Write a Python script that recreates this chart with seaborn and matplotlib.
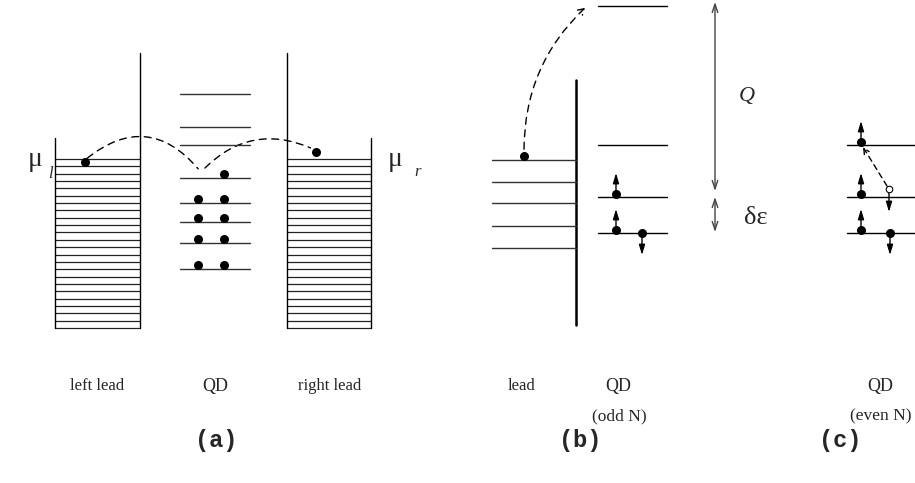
import numpy as np
import matplotlib
matplotlib.use("Agg")
from matplotlib import pyplot as plt
from matplotlib.patches import FancyArrowPatch
import seaborn as sns

sns.set_style("white")
plt.rcParams['font.family'] = ['Liberation Serif', 'DejaVu Serif']

# ---- panel (a): leads and dot levels (pixel coords, y down) ----
lead_top, lead_bot = 159, 328
n_lead_lines = 24
left_lead_x = [55, 140]
right_lead_x = [287, 371]
wall_low_top, wall_high_top = 138, 53
qd_a_x = [180, 250]
qd_a_levels = [94, 127, 145, 178, 203, 222, 243, 269]
qd_a_dots = [(224, 178), (198, 203), (224, 203), (198, 222), (224, 222),
             (198, 243), (224, 243), (198, 269), (224, 269)]
lead_e_left = (85, 162)
lead_e_right = (316, 152)

# ---- panel (b) ----
lead_b_wall = [576, 80, 325]
lead_b_x = [492, 576]
lead_b_levels = [160, 182, 203, 226, 248]
lead_e_b = (524, 156)
qd_b_x = [598, 667]
qd_b_levels = [6, 145, 197, 233]
spins_b = [(616, 197, 'up'), (616, 233, 'up'), (642, 233, 'down')]

# ---- panel (c) ----
qd_c_x = [847, 915]
qd_c_levels = [145, 197, 233]
spins_c = [(861, 145, 'up'), (861, 197, 'up'), (861, 233, 'up'), (890, 233, 'down')]
hole_c = (889, 189)

fig = plt.figure(figsize=(9.15, 4.83), dpi=100)
ax = fig.add_axes([0, 0, 1, 1])
ax.set_xlim(0, 915)
ax.set_ylim(483, 0)
ax.axis('off')

k = dict(color='black', lw=1.0)

# leads (a)
for xs in (left_lead_x, right_lead_x):
    for y in np.linspace(lead_top, lead_bot, n_lead_lines):
        ax.plot(xs, [y, y], color='#222222', lw=0.9)
ax.plot([left_lead_x[0]] * 2, [wall_low_top, lead_bot], **k)
ax.plot([left_lead_x[1]] * 2, [wall_high_top, lead_bot], **k)
ax.plot([right_lead_x[0]] * 2, [wall_high_top, lead_bot], **k)
ax.plot([right_lead_x[1]] * 2, [wall_low_top, lead_bot], **k)

for y in qd_a_levels:
    ax.plot(qd_a_x, [y, y], color='#333333', lw=1.0)
dx, dy = zip(*qd_a_dots)
ax.scatter(dx, np.array(dy) - 4, s=30, color='black', zorder=3)
ax.scatter(*zip(lead_e_left, lead_e_right), s=30, color='black', zorder=3)

ax.add_patch(FancyArrowPatch((lead_e_left[0], lead_e_left[1] - 2), (200, 171),
                             connectionstyle="arc3,rad=-0.5", arrowstyle='-',
                             ls=(0, (5, 4)), lw=1.0, color='black'))
ax.add_patch(FancyArrowPatch((203, 170), (lead_e_right[0] - 3, lead_e_right[1] - 3),
                             connectionstyle="arc3,rad=-0.35", arrowstyle='-',
                             ls=(0, (5, 4)), lw=1.0, color='black'))

ax.text(28, 160, 'μ', fontsize=20, ha='left', va='center')
ax.text(50, 174, 'l', fontsize=12, style='italic', ha='center', va='center')
ax.text(388, 160, 'μ', fontsize=20, ha='left', va='center')
ax.text(418, 172, 'r', fontsize=12, style='italic', ha='center', va='center')

ax.text(97, 386, 'left lead', fontsize=12, ha='center', va='center')
ax.text(215, 386, 'QD', fontsize=13, ha='center', va='center')
ax.text(330, 386, 'right lead', fontsize=12, ha='center', va='center')

# panel (b)
ax.plot([lead_b_wall[0]] * 2, lead_b_wall[1:], color='black', lw=1.8)
for y in lead_b_levels:
    ax.plot(lead_b_x, [y, y], color='#333333', lw=1.0)
ax.scatter(*lead_e_b, s=30, color='black', zorder=3)
for y in qd_b_levels:
    ax.plot(qd_b_x, [y, y], color='black', lw=1.0)


def spin(x, y, d):
    y0 = y - 3 if d == 'up' else y
    ax.scatter(x, y0, s=30, color='black', zorder=3)
    y1 = y - 24 if d == 'up' else y + 22
    ax.annotate('', xy=(x, y1), xytext=(x, y0),
                arrowprops=dict(arrowstyle='-|>,head_length=0.6,head_width=0.18',
                                color='black', lw=1.0, shrinkA=0, shrinkB=0))


for x, y, d in spins_b:
    spin(x, y, d)

ax.add_patch(FancyArrowPatch((lead_e_b[0], lead_e_b[1] - 4), (587, 6),
                             connectionstyle="arc3,rad=-0.22",
                             arrowstyle='->,head_length=4,head_width=2.5',
                             ls=(0, (5, 4)), lw=1.0, color='black'))

ax.annotate('', xy=(715, 2), xytext=(715, 191),
            arrowprops=dict(arrowstyle='<->,head_length=0.6,head_width=0.2',
                            color='#444444', lw=1.0, shrinkA=0, shrinkB=0))
ax.annotate('', xy=(715, 197), xytext=(715, 232),
            arrowprops=dict(arrowstyle='<->,head_length=0.6,head_width=0.2',
                            color='#444444', lw=1.0, shrinkA=0, shrinkB=0))
ax.text(747, 97, 'Q', fontsize=16, style='italic', ha='center', va='center')
ax.text(756, 218, 'δε', fontsize=19, ha='center', va='center')

ax.text(522, 386, 'lead', fontsize=12, ha='center', va='center')
ax.text(618, 386, 'QD', fontsize=13, ha='center', va='center')
ax.text(619, 416, '(odd N)', fontsize=12.5, ha='center', va='center')

# panel (c)
for y in qd_c_levels:
    ax.plot(qd_c_x, [y, y], color='black', lw=1.0)
for x, y, d in spins_c:
    spin(x, y, d)
ax.scatter(*hole_c, s=22, facecolor='white', edgecolor='black', lw=0.8, zorder=3)
ax.annotate('', xy=(hole_c[0], 212), xytext=(hole_c[0], 193),
            arrowprops=dict(arrowstyle='-|>,head_length=0.6,head_width=0.18',
                            color='black', lw=1.0, shrinkA=0, shrinkB=0))
ax.annotate('', xy=(863, 147), xytext=(hole_c[0] - 2, hole_c[1] - 3),
            arrowprops=dict(arrowstyle='->,head_length=0.4,head_width=0.2',
                            ls=(0, (4, 3)), color='black', lw=1.0,
                            shrinkA=0, shrinkB=0))
ax.text(880, 386, 'QD', fontsize=13, ha='center', va='center')
ax.text(881, 416, '(even N)', fontsize=12.5, ha='center', va='center')

for x, s in [(216, '(a)'), (580, '(b)'), (840, '(c)')]:
    ax.text(x, 441, s, fontsize=17, family='Liberation Mono', weight='bold',
            ha='center', va='center')

fig.savefig('out.png', dpi=100)
